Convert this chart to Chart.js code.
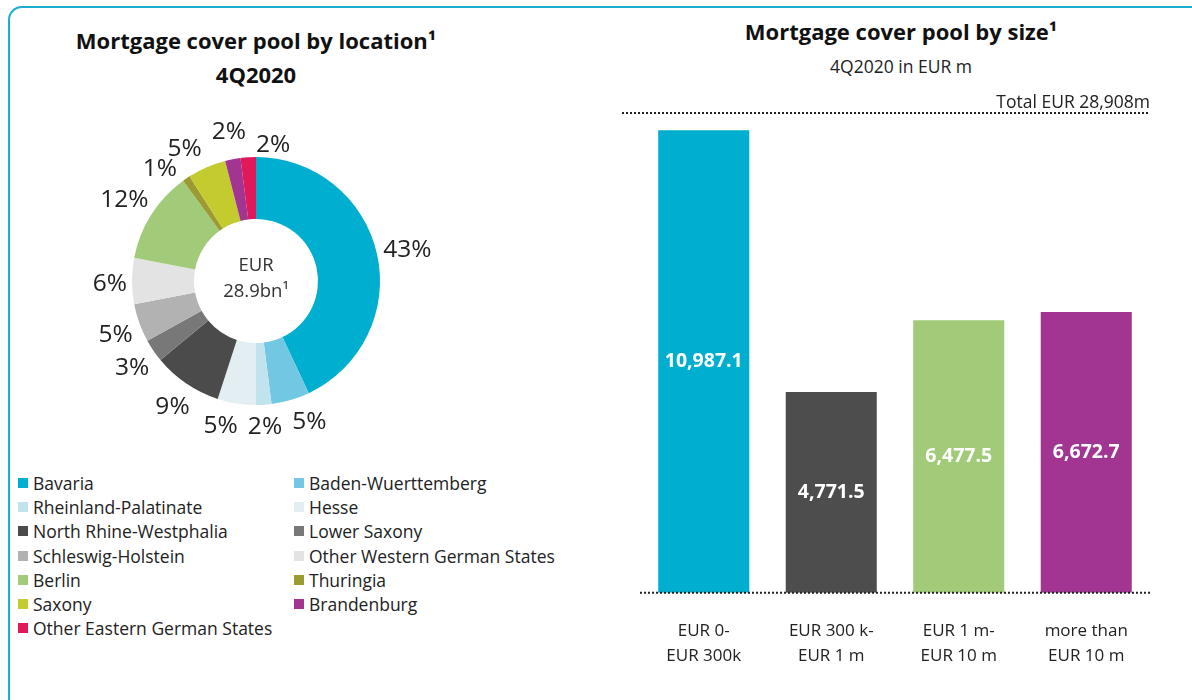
<!DOCTYPE html>
<html>
<head>
<meta charset="utf-8">
<script src="https://cdn.jsdelivr.net/npm/chart.js@4.4.1/dist/chart.umd.min.js"></script>
<style>
  html, body { margin: 0; padding: 0; background: #fff; }
  body { width: 1192px; height: 700px; position: relative; overflow: hidden; font-family: "Open Sans", sans-serif; color: #222; }
  .frame { position: absolute; left: 8px; top: 6px; width: 1300px; height: 800px;
    border-top: 2px solid #1aaed0; border-left: 2px solid #1aaed0; border-top-left-radius: 14px; }
  .title { position: absolute; text-align: center; font-weight: bold; font-size: 22px; line-height: 34px; color: #111; white-space: nowrap; }
  .sub { position: absolute; text-align: center; font-size: 17.5px; line-height: 24px; color: #222; }
  #pieWrap { position: absolute; left: 0; top: 100px; width: 512px; height: 360px; }
  #barWrap { position: absolute; left: 600px; top: 0; width: 592px; height: 700px; }
  #legend { position: absolute; left: 18px; top: 471px; display: grid; grid-template-columns: 276px 290px; }
  .item { display: flex; align-items: center; height: 24.2px; font-size: 17.5px; color: #222; white-space: nowrap; }
  .sw { width: 10px; height: 10px; margin-right: 5px; flex: none; }
</style>
</head>
<body>
<div class="frame"></div>
<div class="title" style="left:26px; top:23px; width:460px;">Mortgage cover pool by location¹<br>4Q2020</div>
<div class="title" style="left:700px; top:14px; width:402px;">Mortgage cover pool by size¹</div>
<div class="sub" style="left:700px; top:54px; width:402px;">4Q2020 in EUR m</div>
<div id="pieWrap"><canvas id="pieChart"></canvas></div>
<div id="barWrap"><canvas id="barChart"></canvas></div>
<div id="legend"></div>
<script>
// Mortgage cover pool by location (share in %)
const locationLabels = ['Bavaria', 'Baden-Wuerttemberg', 'Rheinland-Palatinate', 'Hesse',
  'North Rhine-Westphalia', 'Lower Saxony', 'Schleswig-Holstein', 'Other Western German States',
  'Berlin', 'Thuringia', 'Saxony', 'Brandenburg', 'Other Eastern German States'];
const locationShares = [43, 5, 2, 5, 9, 3, 5, 6, 12, 1, 5, 2, 2];
const locationColors = ['#00aed0', '#72c7e2', '#c0e3ee', '#e2eef2', '#4b4b4b', '#787878', '#b2b2b2',
  '#e3e3e3', '#a1cb79', '#9b9a33', '#c3cb2f', '#a13591', '#e0195b'];
const poolTotalBn = 28.9;

// Mortgage cover pool by size (EUR m)
const sizeLabels = [['EUR 0-', 'EUR 300k'], ['EUR 300 k-', 'EUR 1 m'], ['EUR 1 m-', 'EUR 10 m'], ['more than', 'EUR 10 m']];
const sizeValues = [10987.1, 4771.5, 6477.5, 6672.7];
const sizeColors = ['#00aed0', '#4d4d4d', '#a1cb79', '#a13591'];
const poolTotalM = 28908;

const FONT = '"Open Sans", sans-serif';

// legend (two columns, row by row)
const legend = document.getElementById('legend');
locationLabels.forEach((name, i) => {
  const el = document.createElement('div');
  el.className = 'item';
  el.innerHTML = `<span class="sw" style="background:${locationColors[i]}"></span>${name}`;
  legend.appendChild(el);
});

// percent labels outside the slices + centre text
const pieLabels = {
  id: 'pieLabels',
  afterDatasetsDraw(chart) {
    const ctx = chart.ctx;
    const meta = chart.getDatasetMeta(0);
    ctx.save();
    ctx.font = `24.5px ${FONT}`;
    ctx.fillStyle = '#222';
    ctx.textAlign = 'center';
    ctx.textBaseline = 'middle';
    const boxes = meta.data.map((arc, i) => {
      const p = arc.getProps(['x', 'y', 'startAngle', 'endAngle', 'outerRadius'], true);
      const mid = (p.startAngle + p.endAngle) / 2;
      const txt = locationShares[i] + '%';
      const w = ctx.measureText(txt).width;
      const r = p.outerRadius + 5 + w / 2 * Math.abs(Math.cos(mid)) + 12 * Math.abs(Math.sin(mid));
      return { txt, w, h: 20, x: p.x + r * Math.cos(mid), y: p.y + r * Math.sin(mid) + 3 };
    });
    // push overlapping labels apart a little
    for (let it = 0; it < 80; it++) {
      for (let i = 0; i < boxes.length; i++) {
        for (let j = i + 1; j < boxes.length; j++) {
          const a = boxes[i], b = boxes[j];
          const ox = (a.w + b.w) / 2 + 10 - Math.abs(a.x - b.x);
          const oy = (a.h + b.h) / 2 - Math.abs(a.y - b.y);
          if (ox > 0 && oy > 0) {
            const dx = b.x - a.x, dy = b.y - a.y;
            const len = Math.hypot(dx, dy) || 1;
            const s = Math.min(ox, oy) / 4;
            a.x -= dx / len * s; a.y -= dy / len * s;
            b.x += dx / len * s; b.y += dy / len * s;
          }
        }
      }
    }
    boxes.forEach(b => ctx.fillText(b.txt, b.x, b.y));
    const c = meta.data[0];
    ctx.font = `18.5px ${FONT}`;
    ctx.fillStyle = '#333';
    ctx.fillText('EUR', c.x, c.y - 15);
    ctx.fillText(poolTotalBn.toFixed(1) + 'bn¹', c.x, c.y + 11);
    ctx.restore();
  }
};

new Chart(document.getElementById('pieChart'), {
  type: 'doughnut',
  data: {
    labels: locationLabels,
    datasets: [{
      data: locationShares,
      backgroundColor: locationColors,
      borderWidth: 0,
      hoverOffset: 0,
    }]
  },
  options: {
    responsive: true,
    maintainAspectRatio: false,
    animation: false,
    cutout: '50%',
    layout: { padding: { left: 132, right: 132, top: 57, bottom: 55 } },
    plugins: { legend: { display: false }, tooltip: { enabled: false } }
  },
  plugins: [pieLabels]
});

// dotted lines, total text and values inside bars
const barDecor = {
  id: 'barDecor',
  afterDatasetsDraw(chart) {
    const ctx = chart.ctx;
    const a = chart.chartArea;
    ctx.save();
    ctx.strokeStyle = '#222';
    ctx.lineWidth = 2;
    ctx.setLineDash([2, 2]);
    ctx.beginPath();
    ctx.moveTo(a.left - 18, a.top); ctx.lineTo(a.right, a.top);
    ctx.moveTo(a.left, a.bottom); ctx.lineTo(a.right, a.bottom);
    ctx.stroke();
    ctx.setLineDash([]);
    ctx.font = `17.5px ${FONT}`;
    ctx.fillStyle = '#222';
    ctx.textAlign = 'right';
    ctx.textBaseline = 'bottom';
    ctx.fillText('Total EUR ' + poolTotalM.toLocaleString('en-US') + 'm', a.right, a.top - 1);
    ctx.font = `bold 19.5px ${FONT}`;
    ctx.fillStyle = '#fff';
    ctx.textAlign = 'center';
    ctx.textBaseline = 'middle';
    chart.getDatasetMeta(0).data.forEach((bar, i) => {
      const txt = sizeValues[i].toLocaleString('en-US', { minimumFractionDigits: 1 });
      ctx.fillText(txt, bar.x, (bar.y + bar.base) / 2);
    });
    ctx.restore();
  }
};

new Chart(document.getElementById('barChart'), {
  type: 'bar',
  data: {
    labels: sizeLabels,
    datasets: [{
      data: sizeValues,
      backgroundColor: sizeColors,
      barPercentage: 0.714,
      categoryPercentage: 1,
    }]
  },
  options: {
    responsive: true,
    maintainAspectRatio: false,
    animation: false,
    layout: { padding: { left: 40, right: 42, top: 113, bottom: 14 } },
    plugins: { legend: { display: false }, tooltip: { enabled: false } },
    scales: {
      x: {
        grid: { display: false },
        border: { display: false },
        ticks: { color: '#222', font: { family: FONT, size: 17, lineHeight: 1.45 }, padding: 18, maxRotation: 0 }
      },
      y: { display: false, min: 0, max: 11400 }
    }
  },
  plugins: [barDecor]
});
</script>
</body>
</html>
